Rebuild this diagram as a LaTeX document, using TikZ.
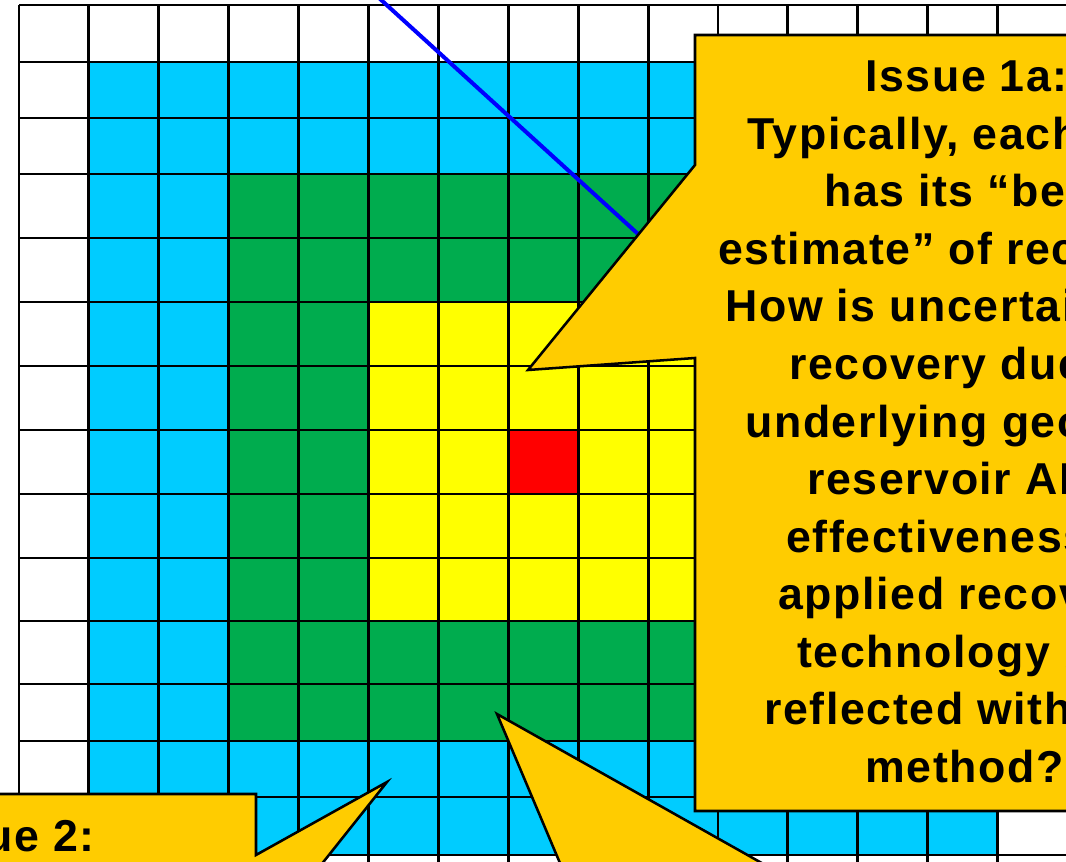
\documentclass[tikz,border=0pt]{standalone}
\usepackage{fontspec}
\setmainfont{Liberation Sans}
\newfontfamily\calloutfont[LetterSpace=3.6]{Liberation Sans}
\definecolor{cellcyan}{HTML}{00CCFF}
\definecolor{cellgreen}{HTML}{00AC4E}
\definecolor{cellyellow}{HTML}{FFFF00}
\definecolor{cellred}{HTML}{FF0000}
\definecolor{callout}{HTML}{FFCC00}
\definecolor{trend}{HTML}{0000FF}
\tikzset{
  gridline/.style={black, line width=2.2pt},
  calloutshape/.style={fill=callout, draw=black, line width=1.9pt, line join=miter},
  calltext/.style={inner sep=0pt, anchor=base west, font=\calloutfont\fontsize{33.5}{43}\selectfont\bfseries},
}
\begin{document}
\begin{tikzpicture}[x=0.75pt,y=-0.75pt]
\useasboundingbox (0,0) rectangle (1066,862);
\clip (0,0) rectangle (1066,862);
\fill[white] (0,0) rectangle (1066,862);
% coloured zones
\fill[cellcyan]   (88.9,62)  rectangle (997.6,855);
\fill[cellgreen]  (228.7,174) rectangle (857.8,741);
\fill[cellyellow] (368.5,302) rectangle (718,621);
\fill[cellred]    (508.3,430) rectangle (578.2,494);
% grid
\foreach \i in {0,...,15} \draw[gridline] ({19+69.9*\i},5) -- ({19+69.9*\i},870);
\foreach \y in {5,62,118,174,238,302,366,430,494,558,621,684,741,797,855}
  \draw[gridline] (19,\y) -- (1075,\y);
% blue line
\coordinate (bl1) at (379,-2);
\coordinate (bl2) at (660,254);
\draw[trend, line width=3pt] (bl1) -- (bl2);
% callout 1a
\draw[calloutshape] (695,35) -- (1090,35) -- (1090,811) -- (695,811) -- (695,358)
  -- (528,370) -- (695,165) -- cycle;
\node[calltext] (l1)  at (865,92)    {Issue 1a:};
\node[calltext] (l2)  at (747,149.5) {Typically, each company};
\node[calltext] (l3)  at (824,207)   {has its “best};
\node[calltext] (l4)  at (718,264.5) {estimate” of recovery.};
\node[calltext] (l5)  at (725,322)   {How is uncertainty in};
\node[calltext] (l6)  at (789,379.5) {recovery due to};
\node[calltext] (l7)  at (745,437)   {underlying geology,};
\node[calltext] (l8)  at (807,494.5) {reservoir AND};
\node[calltext] (l9)  at (786,552)   {effectiveness of};
\node[calltext] (l10) at (778,609.5) {applied recovery};
\node[calltext] (l11) at (797,667)   {technology be};
\node[calltext] (l12) at (764,724.5) {reflected within};
\node[calltext] (l13) at (865,782)   {method?};
% callout 2
\draw[calloutshape] (-10,794) -- (256,794) -- (256,855) -- (387,782) -- (313,875)
  -- (-10,875) -- cycle;
\node[calltext, anchor=base east] (issue2) at (95,851) {Issue 2:};
% callout 3 (pointer only)
\draw[calloutshape] (497,714) -- (783,875) -- (565,875) -- cycle;
\end{tikzpicture}
\end{document}
